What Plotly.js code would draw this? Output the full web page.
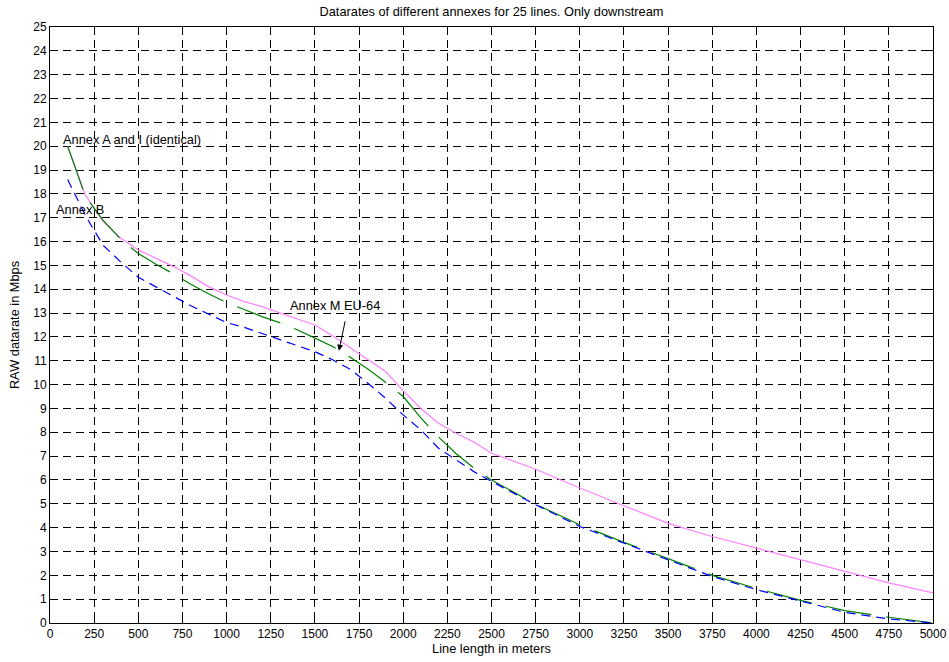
<!DOCTYPE html>
<html>
<head>
<meta charset="utf-8">
<script src="https://cdn.plot.ly/plotly-3.0.1.min.js"></script>
<style>
  html, body { margin: 0; padding: 0; background: #fff; }
  #chart { width: 949px; height: 662px; }
</style>
</head>
<body>
<div id="chart"></div>
<script>
// Line length in meters (shared sample points for all annexes)
const lineLength = [100, 200, 300, 400, 500, 600, 700, 800, 900, 1000,
  1100, 1200, 1300, 1400, 1500, 1600, 1700, 1800, 1900, 2000,
  2100, 2200, 2300, 2400, 2500, 2750, 3000, 3250, 3500, 3750,
  4000, 4250, 4500, 4750, 5000];

// RAW downstream datarate in Mbps, 25 lines
const annexAandI = [20.0, 17.95, 16.85, 16.15, 15.65, 15.3, 14.95, 14.55, 14.1, 13.76,
  13.48, 13.27, 13.02, 12.78, 12.5, 12.05, 11.55, 11.04, 10.55, 9.75,
  9.0, 8.38, 7.96, 7.59, 7.12, 6.45, 5.66, 4.92, 4.18, 3.63,
  3.14, 2.65, 2.16, 1.68, 1.26];

const annexMEU64 = [20.0, 17.9, 16.9, 16.1, 15.5, 15.05, 14.64, 14.2, 13.8, 13.44,
  13.15, 12.85, 12.6, 12.3, 11.95, 11.6, 11.15, 10.65, 10.1, 9.5,
  8.6, 7.8, 7.1, 6.5, 6.0, 4.98, 4.12, 3.38, 2.7, 2.0,
  1.45, 0.95, 0.52, 0.24, 0.0];

const annexB = [18.6, 17.1, 15.85, 15.15, 14.5, 14.1, 13.7, 13.3, 12.95, 12.6,
  12.4, 12.15, 11.9, 11.65, 11.38, 11.04, 10.64, 10.06, 9.43, 8.73,
  8.1, 7.33, 6.85, 6.35, 5.94, 4.96, 4.05, 3.35, 2.65, 1.95,
  1.40, 0.91, 0.45, 0.17, 0.0];

// Axis ticks
const xTicks = [0, 250, 500, 750, 1000, 1250, 1500, 1750, 2000, 2250, 2500, 2750,
  3000, 3250, 3500, 3750, 4000, 4250, 4500, 4750, 5000];
const yTicks = [0, 1, 2, 3, 4, 5, 6, 7, 8, 9, 10, 11, 12, 13, 14, 15, 16, 17, 18,
  19, 20, 21, 22, 23, 24, 25];

const FONT = 'Liberation Sans, Arial, sans-serif';
const TEXT_SIZE = 12.8;

const traces = [
  {
    x: lineLength, y: annexAandI, type: 'scatter', mode: 'lines',
    name: 'Annex A and I', line: { color: '#ff80ff', width: 1.2 }
  },
  {
    x: lineLength, y: annexMEU64, type: 'scatter', mode: 'lines',
    name: 'Annex M EU-64', line: { color: '#008000', width: 1.2, dash: '46px,15px' }
  },
  {
    x: lineLength, y: annexB, type: 'scatter', mode: 'lines',
    name: 'Annex B', line: { color: '#0000ff', width: 1.2, dash: '9px,6px' }
  }
];

const axisCommon = {
  showline: true, linecolor: '#000', linewidth: 1, mirror: 'ticks',
  ticks: 'inside', ticklen: 6, tickcolor: '#000', tickwidth: 1,
  showgrid: true, gridcolor: '#000', gridwidth: 1, griddash: '8px,5px',
  zeroline: false, tickfont: { family: FONT, size: 12, color: '#000' }
};

const layout = {
  width: 949, height: 662,
  margin: { l: 50, r: 16, t: 27, b: 39 },
  paper_bgcolor: '#fff', plot_bgcolor: '#fff',
  showlegend: false,
  font: { family: FONT, size: 12, color: '#000' },
  title: {
    text: 'Datarates of different annexes for 25 lines. Only downstream',
    font: { family: FONT, size: TEXT_SIZE, color: '#000' },
    xref: 'paper', x: 0.5, xanchor: 'center',
    yref: 'container', y: 1 - 12 / 662, yanchor: 'middle'
  },
  xaxis: Object.assign({}, axisCommon, {
    range: [0, 5000], tickvals: xTicks, ticktext: xTicks.map(String),
    title: { text: 'Line length in meters', font: { family: FONT, size: TEXT_SIZE }, standoff: 2 }
  }),
  yaxis: Object.assign({}, axisCommon, {
    range: [0, 25], tickvals: yTicks, ticktext: yTicks.map(String),
    title: { text: 'RAW datarate in Mbps', font: { family: FONT, size: TEXT_SIZE }, standoff: 10 }
  }),
  annotations: [
    {
      x: 65, y: 20.27, xref: 'x', yref: 'y', text: 'Annex A and I (identical)',
      showarrow: false, xanchor: 'left', yanchor: 'middle',
      font: { family: FONT, size: TEXT_SIZE, color: '#000' }
    },
    {
      x: 21, y: 17.36, xref: 'x', yref: 'y', text: 'Annex B',
      showarrow: false, xanchor: 'left', yanchor: 'middle',
      font: { family: FONT, size: TEXT_SIZE, color: '#000' }
    },
    {
      x: 1350, y: 13.31, xref: 'x', yref: 'y', text: 'Annex M EU-64',
      showarrow: false, xanchor: 'left', yanchor: 'middle',
      font: { family: FONT, size: TEXT_SIZE, color: '#000' }
    },
    {
      x: 1636, y: 11.42, xref: 'x', yref: 'y', text: ' ',
      showarrow: true, ax: 8, ay: -38, axref: 'pixel', ayref: 'pixel',
      arrowhead: 2, arrowsize: 1.2, arrowwidth: 1, arrowcolor: '#000'
    }
  ]
};

Plotly.newPlot('chart', traces, layout, { displayModeBar: false, staticPlot: true });
</script>
</body>
</html>
